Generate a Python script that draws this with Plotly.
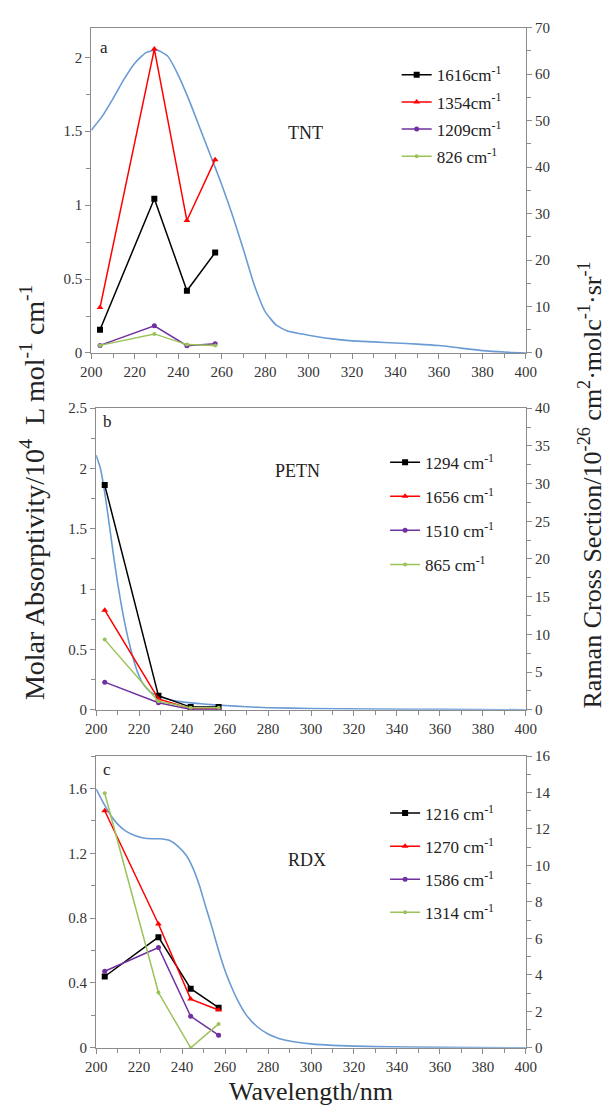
import plotly.graph_objects as go

W, H = 614, 1111
def px(x): return x / W
def py(y): return 1 - y / H

FONT = '"Liberation Serif", "Times New Roman", serif'
TXT = "#333333"
AX = "#8c8c8c"
BLUE = "#6a9bd3"
BLACK = "#000000"
RED = "#ff0000"
PURPLE = "#7030a0"
GREEN = "#9bc35a"

# Raman excitation wavelengths (nm)
exc = [204, 229, 244, 257]

# ---------- TNT ----------
tnt_abs_wl = [200, 205, 210, 215, 220, 225, 230, 235, 240, 245, 250, 255, 260, 265, 270, 275, 280, 285, 290,
              295, 300, 310, 320, 330, 340, 350, 360, 370, 380, 390, 400]
tnt_abs = [1.507, 1.60, 1.72, 1.85, 1.96, 2.03, 2.05, 2.01, 1.88, 1.71, 1.52, 1.33, 1.14, 0.93, 0.70, 0.46, 0.28,
           0.19, 0.15, 0.133, 0.12, 0.097, 0.082, 0.075, 0.067, 0.06, 0.05, 0.033, 0.016, 0.006, 0.0]
tnt_names = ["1616cm<sup>-1</sup>", "1354cm<sup>-1</sup>", "1209cm<sup>-1</sup>", "826 cm<sup>-1</sup>"]
tnt_1616 = [5.0, 33.2, 13.4, 21.6]
tnt_1354 = [9.76, 65.4, 28.5, 41.6]
tnt_1209 = [1.63, 5.85, 1.56, 2.0]
tnt_826 = [1.63, 4.1, 1.8, 1.63]

# ---------- PETN ----------
petn_abs_wl = [200, 202, 204, 206, 208, 210, 212, 214, 216, 218, 220, 222, 225, 230, 235, 240, 250, 260, 270,
               280, 300, 330, 360, 400]
petn_abs = [2.11, 2.0, 1.8, 1.55, 1.29, 1.05, 0.84, 0.66, 0.51, 0.38, 0.28, 0.21, 0.15, 0.105, 0.08, 0.065,
            0.047, 0.035, 0.025, 0.017, 0.01, 0.006, 0.003, 0.0]
petn_names = ["1294 cm<sup>-1</sup>", "1656 cm<sup>-1</sup>", "1510 cm<sup>-1</sup>", "865 cm<sup>-1</sup>"]
petn_1294 = [29.8, 1.87, 0.35, 0.35]
petn_1656 = [13.2, 1.44, 0.13, 0.13]
petn_1510 = [3.66, 0.92, 0.05, 0.05]
petn_865 = [9.3, 1.13, 0.26, 0.26]

# ---------- RDX ----------
rdx_abs_wl = [200, 203, 206, 210, 214, 218, 222, 226, 230, 234, 238, 242, 245, 248, 251, 254, 257, 260, 263,
              266, 270, 275, 280, 285, 290, 300, 310, 330, 360, 400]
rdx_abs = [1.596, 1.52, 1.45, 1.38, 1.335, 1.31, 1.295, 1.29, 1.29, 1.28, 1.245, 1.186, 1.11, 1.004, 0.87,
           0.74, 0.60, 0.475, 0.375, 0.29, 0.20, 0.13, 0.085, 0.058, 0.042, 0.024, 0.015, 0.007, 0.003, 0.0]
rdx_names = ["1216 cm<sup>-1</sup>", "1270 cm<sup>-1</sup>", "1586 cm<sup>-1</sup>", "1314 cm<sup>-1</sup>"]
rdx_1216 = [3.91, 6.07, 3.24, 2.2]
rdx_1270 = [13.0, 6.79, 2.67, 2.07]
rdx_1586 = [4.2, 5.5, 1.73, 0.69]
rdx_1314 = [13.96, 3.03, 0.0, 1.31]

x_ticks = list(range(200, 401, 20))

styles = [
    dict(color=BLACK, symbol="square", size=6),
    dict(color=RED, symbol="triangle-up", size=6),
    dict(color=PURPLE, symbol="circle", size=5),
    dict(color=GREEN, symbol="circle", size=4),
]

fig = go.Figure()

panels = [
    dict(xa="x", ya="y", ya2="y2", legend="legend", absx=tnt_abs_wl, absy=tnt_abs,
         names=tnt_names, series=[tnt_1616, tnt_1354, tnt_1209, tnt_826]),
    dict(xa="x2", ya="y3", ya2="y4", legend="legend2", absx=petn_abs_wl, absy=petn_abs,
         names=petn_names, series=[petn_1294, petn_1656, petn_1510, petn_865]),
    dict(xa="x3", ya="y5", ya2="y6", legend="legend3", absx=rdx_abs_wl, absy=rdx_abs,
         names=rdx_names, series=[rdx_1216, rdx_1270, rdx_1586, rdx_1314]),
]

for p in panels:
    fig.add_trace(go.Scatter(x=p["absx"], y=p["absy"], mode="lines",
                             line=dict(color=BLUE, width=1.6, shape="spline", smoothing=0.5),
                             xaxis=p["xa"], yaxis=p["ya"], showlegend=False, hoverinfo="skip"))
    for i, (nm, s) in enumerate(zip(p["names"], p["series"])):
        st = styles[i]
        fig.add_trace(go.Scatter(x=exc, y=s, mode="lines+markers", name=nm,
                                 line=dict(color=st["color"], width=1.5),
                                 marker=dict(color=st["color"], symbol=st["symbol"], size=st["size"]),
                                 xaxis=p["xa"], yaxis=p["ya2"], legend=p["legend"],
                                 legendgroup=p["legend"] + str(i)))

tickfont = dict(family=FONT, size=15, color=TXT)

def xaxis_cfg(dom):
    return dict(domain=dom, range=[200, 400], tickvals=x_ticks, showline=True, mirror=True,
                linecolor=AX, linewidth=1.3, ticks="outside", ticklen=5, tickcolor=AX,
                minor=dict(dtick=10, ticks="outside", ticklen=4, tickcolor=AX),
                showgrid=False, zeroline=False, tickfont=tickfont, fixedrange=True)

def yleft_cfg(dom, anchor, rng, tv, ttxt, mdt):
    return dict(domain=dom, anchor=anchor, range=rng, tickvals=tv, ticktext=ttxt, showline=True,
                linecolor=AX, linewidth=1.3, ticks="outside", ticklen=5, tickcolor=AX,
                minor=dict(dtick=mdt, ticks="outside", ticklen=4, tickcolor=AX),
                showgrid=False, zeroline=False, tickfont=tickfont)

def yright_cfg(anchor, over, rng, dt, mdt):
    return dict(anchor=anchor, overlaying=over, side="right", range=rng, dtick=dt, tick0=0,
                showline=True, linecolor=AX, linewidth=1.3, ticks="outside", ticklen=5, tickcolor=AX,
                minor=dict(dtick=mdt, ticks="outside", ticklen=4, tickcolor=AX),
                showgrid=False, zeroline=False, tickfont=tickfont)

xa_dom = [px(83.3), px(534)]
xb_dom = [px(88.3), px(534)]
ya_dom = [py(350), py(20)]
yb_dom = [py(712), py(406)]
yc_dom = [py(1055), py(759)]

legfont = dict(family=FONT, size=17, color="#222222")

fig.update_layout(
    width=W, height=H, margin=dict(l=0, r=0, t=0, b=0),
    paper_bgcolor="white", plot_bgcolor="white",
    font=dict(family=FONT, color=TXT),
    xaxis=xaxis_cfg(xa_dom) | dict(anchor="y"),
    yaxis=yleft_cfg(ya_dom, "x", [0, 2.2], [0, 0.5, 1, 1.5, 2], ["0", "0.5", "1", "1.5", "2"], 0.25),
    yaxis2=yright_cfg("x", "y", [0, 70], 10, 5),
    xaxis2=xaxis_cfg(xb_dom) | dict(anchor="y3"),
    yaxis3=yleft_cfg(yb_dom, "x2", [0, 2.5], [0, 0.5, 1, 1.5, 2, 2.5], ["0", "0.5", "1", "1.5", "2", "2.5"], 0.25),
    yaxis4=yright_cfg("x2", "y3", [0, 40], 5, 2.5),
    xaxis3=xaxis_cfg(xb_dom) | dict(anchor="y5"),
    yaxis5=yleft_cfg(yc_dom, "x3", [0, 1.8], [0, 0.4, 0.8, 1.2, 1.6], ["0", "0.4", "0.8", "1.2", "1.6"], 0.2),
    yaxis6=yright_cfg("x3", "y5", [0, 16], 2, 1),
    legend=dict(x=px(400), y=py(50), xanchor="left", yanchor="top", font=legfont,
                bgcolor="rgba(0,0,0,0)", itemwidth=30, tracegroupgap=2),
    legend2=dict(x=px(388), y=py(443), xanchor="left", yanchor="top", font=legfont,
                 bgcolor="rgba(0,0,0,0)", itemwidth=30, tracegroupgap=9),
    legend3=dict(x=px(388), y=py(799), xanchor="left", yanchor="top", font=legfont,
                 bgcolor="rgba(0,0,0,0)", itemwidth=30, tracegroupgap=8),
    showlegend=True,
)

ann = []
def note(text, x, y, size, angle=0, color="#222222"):
    ann.append(dict(text=text, x=px(x), y=py(y), xref="paper", yref="paper", showarrow=False,
                    font=dict(family=FONT, size=size, color=color), textangle=angle,
                    xanchor="center", yanchor="middle"))

note("a", 96, 40, 17)
note("b", 100, 420, 17)
note("c", 100, 773, 17)
note("TNT", 305, 127, 18)
note("PETN", 297, 470, 18)
note("RDX", 307, 864, 18)
note("Molar Absorptivity/10<sup>4</sup>  L mol<sup>-1</sup> cm<sup>-1</sup>", 23, 491, 28, -90)
note("Raman Cross Section/10<sup>-26</sup> cm<sup>2</sup>·molc<sup>-1</sup>·sr<sup>-1</sup>", 601, 484, 26, -90)
note("Wavelength/nm", 311, 1099, 26)
fig.update_layout(annotations=ann)

fig.write_html("out.html")
